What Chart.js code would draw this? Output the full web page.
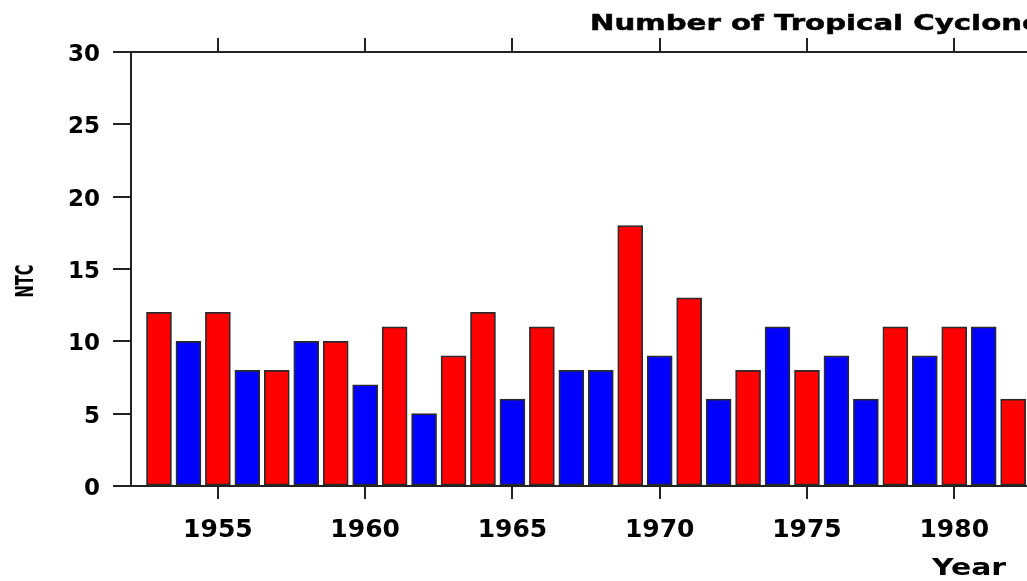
<!DOCTYPE html>
<html>
<head>
<meta charset="utf-8">
<script src="https://cdn.jsdelivr.net/npm/chart.js@4/dist/chart.umd.min.js"></script>
<style>
  html, body { margin: 0; padding: 0; background: #fff; overflow: hidden; }
  #wrap { width: 1027px; height: 581px; position: relative; }
</style>
</head>
<body>
<div id="wrap"><canvas id="c" width="1027" height="581"></canvas></div>
<script>
// ---- Data ----
const years = [1953,1954,1955,1956,1957,1958,1959,1960,1961,1962,1963,1964,1965,1966,1967,
               1968,1969,1970,1971,1972,1973,1974,1975,1976,1977,1978,1979,1980,1981,1982];
const ntc   = [12,10,12,8,8,10,10,7,11,5,9,12,6,11,8,
               8,18,9,13,6,8,11,8,9,6,11,9,11,11,6];
const phase = ['r','b','r','b','r','b','r','b','r','b','r','r','b','r','b',
               'b','r','b','r','b','r','b','r','b','b','r','b','r','b','r'];
const yTicks = [0,5,10,15,20,25,30];
const xTickYears = [1955,1960,1965,1970,1975,1980];
const titleText = 'Number of Tropical Cyclones';
const yLabel = 'NTC';
const xLabel = 'Year';

const RED = '#ff0000', BLUE = '#0000ff', AX = '#222222';

const textPlugin = {
  id: 'texts',
  afterDraw(chart) {
    const ctx = chart.ctx;
    ctx.save();
    ctx.fillStyle = '#000';
    // title
    ctx.font = 'bold 22px "DejaVu Sans"';
    const part = ctx.measureText('Number of Tropical Cyclon').width;
    const sx = 432 / part;
    ctx.save();
    ctx.translate(590, 30);
    ctx.scale(sx, 1);
    ctx.textAlign = 'left';
    ctx.textBaseline = 'alphabetic';
    ctx.lineWidth = 0.5;
    ctx.strokeStyle = '#000';
    ctx.fillText(titleText, 0, 0);
    ctx.strokeText(titleText, 0, 0);
    ctx.restore();
    // y label
    ctx.font = 'bold 24px "DejaVu Sans"';
    const ylw = ctx.measureText(yLabel).width;
    ctx.save();
    ctx.translate(33, 281);
    ctx.rotate(-Math.PI / 2);
    ctx.scale(33 / ylw, 1);
    ctx.textAlign = 'center';
    ctx.textBaseline = 'alphabetic';
    ctx.fillText(yLabel, 0, 0);
    ctx.restore();
    // x label
    ctx.font = 'bold 23px "DejaVu Sans"';
    const xlw = ctx.measureText(xLabel).width;
    ctx.save();
    ctx.translate(1006, 575);
    ctx.scale(74 / xlw, 1);
    ctx.textAlign = 'right';
    ctx.textBaseline = 'alphabetic';
    ctx.fillText(xLabel, 0, 0);
    ctx.restore();
    ctx.restore();
  }
};

const keepFive = (scale) => {
  scale.ticks = xTickYears.map(v => ({ value: v }));
};

new Chart(document.getElementById('c'), {
  type: 'bar',
  data: {
    datasets: [{
      data: years.map((y, i) => ({ x: y, y: ntc[i] })),
      backgroundColor: phase.map(p => p === 'r' ? RED : BLUE),
      borderColor: '#2a2a2a',
      borderWidth: 1.7,
      borderSkipped: false,
      barThickness: 25
    }]
  },
  options: {
    responsive: false,
    animation: false,
    layout: { padding: { left: 0, right: 0, top: 0, bottom: 0 } },
    plugins: { legend: { display: false }, tooltip: { enabled: false }, title: { display: false } },
    scales: {
      x: {
        type: 'linear',
        position: 'bottom',
        offset: false,
        min: 1952.05,
        max: 1982.47,
        afterBuildTicks: keepFive,
        afterFit: (s) => { s.height = 95; },
        grid: { offset: false, drawOnChartArea: false, drawTicks: true, tickLength: 13, color: AX, lineWidth: 2 },
        border: { display: true, color: AX, width: 2 },
        ticks: {
          padding: 16,
          color: '#000',
          font: { family: 'DejaVu Sans', weight: 'bold', size: 25 },
          maxRotation: 0,
          autoSkip: false,
          callback: (v) => String(v)
        }
      },
      xTop: {
        type: 'linear',
        position: 'top',
        offset: false,
        min: 1952.05,
        max: 1982.47,
        afterBuildTicks: keepFive,
        afterFit: (s) => { s.height = 52; },
        grid: { offset: false, drawOnChartArea: false, drawTicks: true, tickLength: 14, color: AX, lineWidth: 2 },
        border: { display: true, color: AX, width: 2 },
        ticks: { color: 'rgba(0,0,0,0)', font: { size: 10 }, autoSkip: false }
      },
      y: {
        type: 'linear',
        position: 'left',
        min: 0,
        max: 30,
        afterBuildTicks: (s) => { s.ticks = yTicks.map(v => ({ value: v })); },
        afterFit: (s) => { s.width = 131; },
        grid: { drawOnChartArea: false, drawTicks: true, tickLength: 18, color: AX, lineWidth: 2 },
        border: { display: true, color: AX, width: 2 },
        ticks: {
          padding: 13,
          labelOffset: 3,
          color: '#000',
          font: { family: 'DejaVu Sans', weight: 'bold', size: 23 }
        }
      }
    }
  },
  plugins: [textPlugin]
});
</script>
</body>
</html>
